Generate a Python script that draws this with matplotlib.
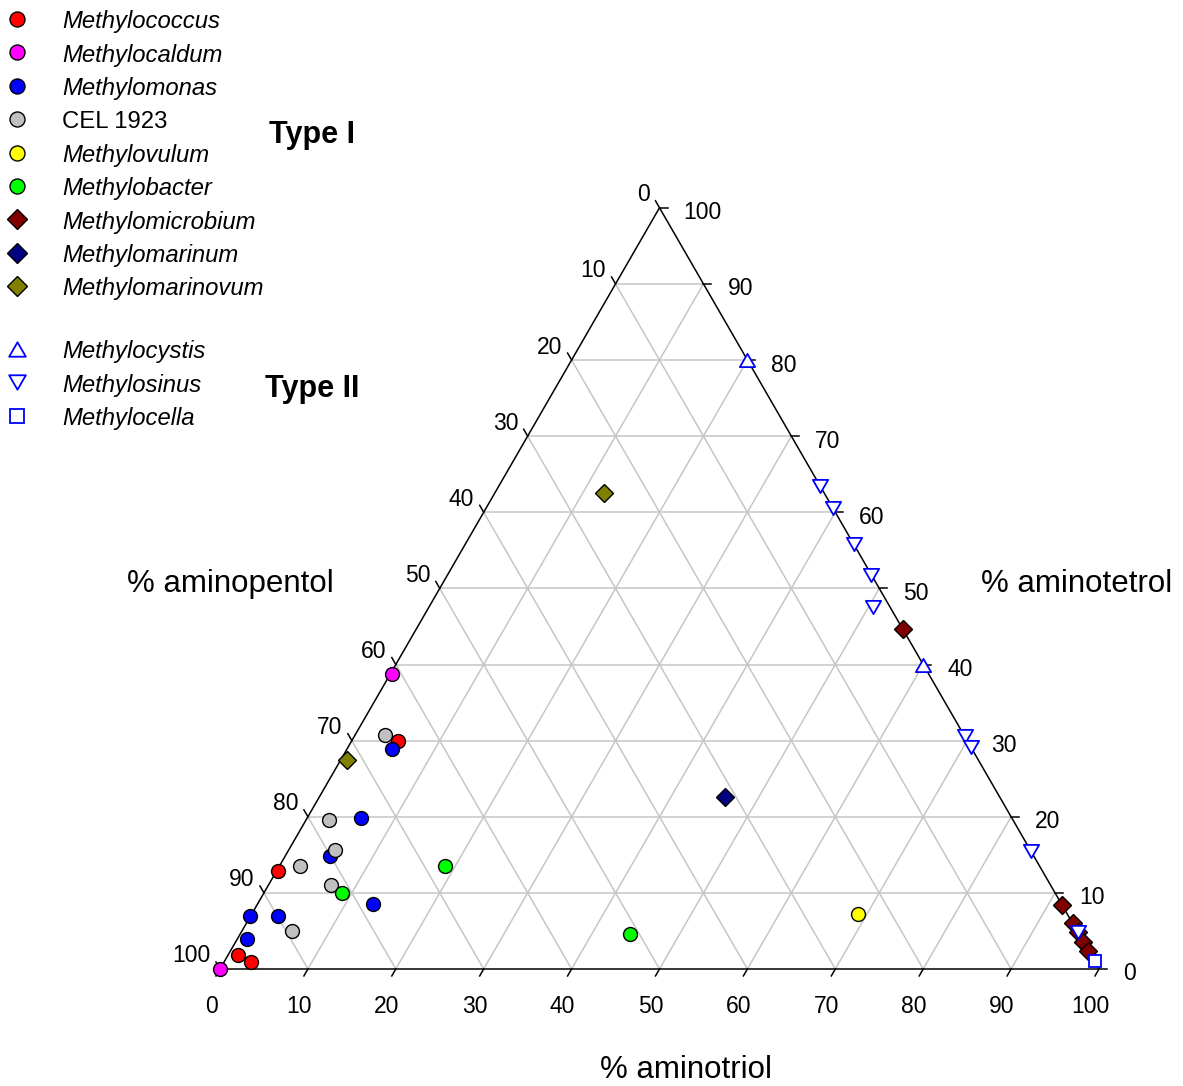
import numpy as np
import matplotlib.pyplot as plt
from matplotlib.path import Path

plt.rcParams['font.family'] = ['Liberation Sans', 'DejaVu Sans']

# % aminotriol and % aminotetrol per genus; aminopentol is the remainder
methylococcus_triol = [1.1, 3.1, 0.1, 5.2]
methylococcus_tetrol = [1.8, 0.9, 12.9, 30.0]

methylocaldum_triol = [0.0, 0.2]
methylocaldum_tetrol = [0.0, 38.8]

methylomonas_triol = [1.1, 0.0, 3.1, 13.1, 5.1, 6.1, 5.1]
methylomonas_tetrol = [3.9, 6.9, 6.9, 8.6, 14.8, 19.9, 28.9]

cel1923_triol = [5.7, 2.4, 7.1, 5.3, 2.6, 3.4]
cel1923_tetrol = [5.0, 13.5, 11.1, 15.6, 19.6, 30.7]

methylovulum_triol = [69.0]
methylovulum_tetrol = [7.2]

methylobacter_triol = [8.9, 18.8, 44.4]
methylobacter_tetrol = [10.0, 13.5, 4.6]

methylomicrobium_triol = [55.3, 91.6, 94.0, 95.2, 96.4, 97.6]
methylomicrobium_tetrol = [44.7, 8.4, 6.0, 4.8, 3.6, 2.4]

methylomarinum_triol = [46.1]
methylomarinum_tetrol = [22.6]

methylomarinovum_triol = [0.7, 12.4]
methylomarinovum_tetrol = [27.5, 62.5]

methylocystis_triol = [20.0, 60.0]
methylocystis_tetrol = [80.0, 40.0]

methylosinus_triol = [36.5, 39.5, 44.2, 48.2, 50.5, 69.4, 70.9, 84.5, 95.2]
methylosinus_tetrol = [63.5, 60.5, 55.8, 51.8, 47.5, 30.6, 29.1, 15.5, 4.8]

methylocella_triol = [99.0]
methylocella_tetrol = [1.0]

ticks = list(range(0, 101, 10))

H = np.sqrt(3) / 2
W_PX, H_PX = 1183, 1086
SIDE = 879.0          # triangle side in pixels
LEFT_PX, BASE_PX = 220, 969

# flatter, equilateral-looking triangles than the built-in ^ / v
tri_up = Path([(-1, -0.866), (1, -0.866), (0, 0.866), (-1, -0.866)], closed=True)
tri_down = Path([(-1, 0.866), (1, 0.866), (0, -0.866), (-1, 0.866)], closed=True)

genera = [
    ("Methylococcus", methylococcus_triol, methylococcus_tetrol, 'o', '#ff0000', 'black', True),
    ("Methylocaldum", methylocaldum_triol, methylocaldum_tetrol, 'o', '#ff00ff', 'black', True),
    ("Methylomonas", methylomonas_triol, methylomonas_tetrol, 'o', '#0000ff', 'black', True),
    ("CEL 1923", cel1923_triol, cel1923_tetrol, 'o', '#c0c0c0', 'black', False),
    ("Methylovulum", methylovulum_triol, methylovulum_tetrol, 'o', '#ffff00', 'black', True),
    ("Methylobacter", methylobacter_triol, methylobacter_tetrol, 'o', '#00ff00', 'black', True),
    ("Methylomicrobium", methylomicrobium_triol, methylomicrobium_tetrol, 'D', '#800000', 'black', True),
    ("Methylomarinum", methylomarinum_triol, methylomarinum_tetrol, 'D', '#000080', 'black', True),
    ("Methylomarinovum", methylomarinovum_triol, methylomarinovum_tetrol, 'D', '#808000', 'black', True),
    ("Methylocystis", methylocystis_triol, methylocystis_tetrol, tri_up, 'white', '#0000ff', True),
    ("Methylosinus", methylosinus_triol, methylosinus_tetrol, tri_down, 'white', '#0000ff', True),
    ("Methylocella", methylocella_triol, methylocella_tetrol, 's', 'white', '#0000ff', True),
]


def tern(triol, tetrol):
    t = np.asarray(triol, dtype=float) / 100
    e = np.asarray(tetrol, dtype=float) / 100
    return t + e / 2, e * H


def fpx(x, y):
    return x / W_PX, 1 - y / H_PX


def msize(marker, legend=False):
    if isinstance(marker, str) and marker == 'o':
        return 10.8 if legend else 10.0
    if isinstance(marker, str) and marker == 'D':
        return 9.8 if legend else 9.4
    if isinstance(marker, str) and marker == 's':
        return 9.8 if legend else 9.2
    return 12.0 if legend else 11.0


fig = plt.figure(figsize=(W_PX / 100, H_PX / 100), dpi=100)
ax = fig.add_axes([0, 0, 1, 1])
ax.set_xlim(-LEFT_PX / SIDE, (W_PX - LEFT_PX) / SIDE)
ax.set_ylim(-(H_PX - BASE_PX) / SIDE, BASE_PX / SIDE)
ax.axis('off')

grid_kw = dict(color='#c6c6c6', lw=1.1, zorder=1)
for v in ticks[1:-1]:
    ax.plot(*tern([0, 100 - v], [v, v]), **grid_kw)          # constant tetrol
    ax.plot(*tern([v, v], [0, 100 - v]), **grid_kw)          # constant triol
    ax.plot(*tern([100 - v, 0], [0, 100 - v]), **grid_kw)    # constant pentol

ax.plot(*tern([0, 100, 0, 0], [0, 0, 100, 0]), color='black', lw=1.1, zorder=2,
        solid_joinstyle='miter')

tl = 8 / SIDE
lab_kw = dict(textcoords='offset pixels', fontsize=16.5, va='baseline')
for v in ticks:
    # bottom axis: aminotriol
    x0, y0 = tern(v, 0)
    ax.plot([x0, x0 - 0.5 * tl], [y0, y0 - H * tl], color='black', lw=1.1, zorder=2)
    ax.annotate(str(v), (x0, y0), xytext=(-9, -44), ha='center', **lab_kw)
    # left axis: aminopentol
    x0, y0 = tern(0, 100 - v)
    ax.plot([x0, x0 - 0.5 * tl], [y0, y0 + H * tl], color='black', lw=1.1, zorder=2)
    ax.annotate(str(v), (x0, y0), xytext=(-9.5, 6.5), ha='right', **lab_kw)
    # right axis: aminotetrol
    x0, y0 = tern(100 - v, v)
    ax.plot([x0, x0 + tl], [y0, y0], color='black', lw=1.1, zorder=2)
    ax.annotate(str(v), (x0, y0), xytext=(24, -11.5), ha='left', **lab_kw)

for i, (name, tr, te, mk, fc, ec, ital) in enumerate(genera):
    x, y = tern(tr, te)
    mew = 1.3 if ec != 'black' else 1.0
    ax.plot(x, y, linestyle='none', marker=mk, ms=msize(mk), mfc=fc, mec=ec,
            mew=mew, zorder=3 + i, clip_on=False)

    row = 19 + 33.4 * i if i < 9 else 349 + 33.4 * (i - 9)
    ax.plot(*fpx(17, row), transform=fig.transFigure, linestyle='none', marker=mk,
            ms=msize(mk, legend=True), mfc=fc, mec=ec, mew=mew, clip_on=False)
    fig.text(*fpx(62, row + 9.3), name, fontsize=17.2, va='baseline', ha='left',
             style='italic' if ital else 'normal')

fig.text(*fpx(312, 142.7), "Type I", fontsize=22, fontweight='bold', ha='center', va='baseline')
fig.text(*fpx(312.5, 396.7), "Type II", fontsize=22, fontweight='bold', ha='center', va='baseline')

fig.text(*fpx(230, 592), "% aminopentol", fontsize=22.5, ha='center', va='baseline')
fig.text(*fpx(1076.5, 592), "% aminotetrol", fontsize=22.5, ha='center', va='baseline')
fig.text(*fpx(686, 1078), "% aminotriol", fontsize=22.5, ha='center', va='baseline')

fig.savefig('out.png', dpi=100)
